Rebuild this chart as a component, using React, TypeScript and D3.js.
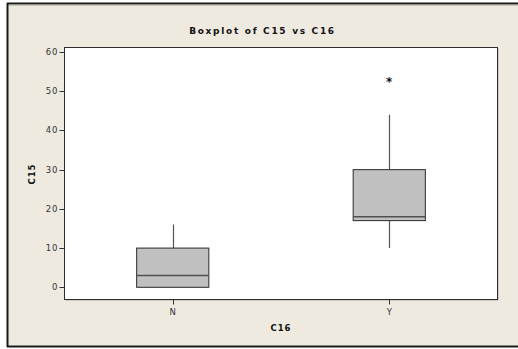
import React from "react";
import * as d3 from "d3";

const categories = ["N", "Y"];
const q1s = [0, 17];
const medians = [3, 18];
const q3s = [10, 30];
const whiskerLows = [0, 10];
const whiskerHighs = [16, 44];
const outliers = [[], [53]];
const yTicks = [0, 10, 20, 30, 40, 50, 60];

const W = 518;
const H = 349;
const plot = { left: 64.5, top: 47.5, right: 497.5, bottom: 299.5 };

export default function App() {
  const x = d3.scaleLinear().domain([0.5, categories.length + 0.5]).range([plot.left, plot.right]);
  const y = d3.scaleLinear().domain([0, 60]).range([287.3, 52]);
  const boxHalf = (x(1.5) - x(1)) / 3;
  const font = "'DejaVu Sans', Verdana, sans-serif";
  const cx = (7 + W) / 2;
  return (
    <svg width={W} height={H} style={{ position: "absolute", left: 0, top: 0 }}>
      <rect x={0} y={0} width={W} height={H} fill="#ffffff" />
      <rect x={7} y={3} width={W} height={343} fill="#EEEAE0" />
      {/* frame */}
      <line x1={7} y1={3.5} x2={W} y2={3.5} stroke="#1a1a1a" strokeWidth={2} />
      <line x1={8} y1={5} x2={W} y2={5} stroke="#9a9a9a" strokeWidth={1} />
      <line x1={7.5} y1={3} x2={7.5} y2={347} stroke="#1a1a1a" strokeWidth={2} />
      <line x1={7} y1={346.5} x2={W} y2={346.5} stroke="#1a1a1a" strokeWidth={2} />
      {/* plot area */}
      <rect x={plot.left + 1} y={plot.top + 1} width={plot.right - plot.left} height={plot.bottom - plot.top} fill="#a9a9a9" />
      <rect x={plot.left} y={plot.top} width={plot.right - plot.left} height={plot.bottom - plot.top} fill="#ffffff" stroke="#2e2e2e" strokeWidth={1} />
      {/* title */}
      <text x={cx} y={34} textAnchor="middle" fontFamily={font} fontSize={9} fontWeight="bold" letterSpacing={1.7} fill="#111">
        Boxplot of C15 vs C16
      </text>
      {/* y axis */}
      {yTicks.map((t) => (
        <g key={t}>
          <line x1={plot.left - 5} x2={plot.left} y1={Math.round(y(t)) + 0.5} y2={Math.round(y(t)) + 0.5} stroke="#333" />
          <text x={plot.left - 6} y={y(t) + 3} textAnchor="end" fontFamily={font} fontSize={8.5} letterSpacing={1} fill="#333">
            {t}
          </text>
        </g>
      ))}
      <text
        transform={`translate(${34.5},${174}) rotate(-90)`}
        textAnchor="middle"
        fontFamily={font}
        fontSize={8.5}
        fontWeight="bold"
        letterSpacing={1}
        fill="#111"
      >
        C15
      </text>
      {/* x axis */}
      {categories.map((c, i) => (
        <g key={c}>
          <line x1={Math.round(x(i + 1)) + 0.5} x2={Math.round(x(i + 1)) + 0.5} y1={plot.bottom} y2={plot.bottom + 5} stroke="#333" />
          <text x={x(i + 1)} y={315} textAnchor="middle" fontFamily={font} fontSize={8.5} fill="#333">
            {c}
          </text>
        </g>
      ))}
      <text x={(plot.left + plot.right) / 2} y={331} textAnchor="middle" fontFamily={font} fontSize={8.5} fontWeight="bold" letterSpacing={1} fill="#111">
        C16
      </text>
      {/* boxes */}
      {categories.map((c, i) => {
        const px = Math.round(x(i + 1)) + 0.5;
        return (
          <g key={"b" + c}>
            <line x1={px} x2={px} y1={y(q3s[i])} y2={y(whiskerHighs[i])} stroke="#555" strokeWidth={1.2} />
            <line x1={px} x2={px} y1={y(q1s[i])} y2={y(whiskerLows[i])} stroke="#555" strokeWidth={1.2} />
            <rect
              x={x(i + 1) - boxHalf}
              y={y(q3s[i])}
              width={boxHalf * 2}
              height={y(q1s[i]) - y(q3s[i])}
              fill="#C0C0C0"
              stroke="#2a2a2a"
              strokeWidth={1}
            />
            <line x1={x(i + 1) - boxHalf} x2={x(i + 1) + boxHalf} y1={y(medians[i])} y2={y(medians[i])} stroke="#505050" strokeWidth={1.5} />
            {outliers[i].map((o, k) => (
              <text key={k} x={x(i + 1)} y={y(o) + 6.5} textAnchor="middle" fontFamily={font} fontSize={12} fontWeight="bold" fill="#111">
                *
              </text>
            ))}
          </g>
        );
      })}
    </svg>
  );
}
